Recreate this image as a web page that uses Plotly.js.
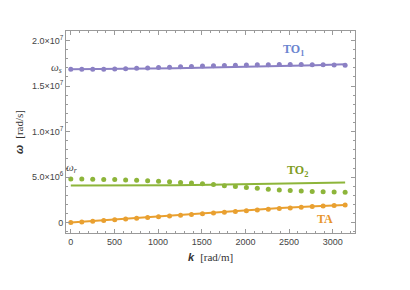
<!DOCTYPE html>
<html>
<head>
<meta charset="utf-8">
<script src="https://cdn.plot.ly/plotly-3.0.1.min.js"></script>
<style>html,body{margin:0;padding:0;background:#fff}#chart{width:410px;height:290px}</style>
</head>
<body>
<div id="chart"></div>
<script>
// wavenumber samples k [rad/m]
const kDots = [0,126,251,377,503,628,754,880,1005,1131,1257,1382,1508,1634,1759,1885,2011,2136,2262,2388,2513,2639,2765,2890,3016,3142];
// frequencies in units of 10^6 rad/s
const to1Dots = [16.85,16.85,16.85,16.85,16.88,16.91,16.95,16.98,17.04,17.08,17.12,17.16,17.20,17.24,17.27,17.29,17.31,17.33,17.35,17.36,17.36,17.36,17.35,17.33,17.31,17.29];
const to2Dots = [4.79,4.79,4.77,4.75,4.73,4.69,4.65,4.60,4.55,4.49,4.42,4.35,4.28,4.18,4.05,3.96,3.86,3.77,3.67,3.59,3.54,3.48,3.43,3.38,3.36,3.33];
const taDots  = [0,0.08,0.16,0.24,0.32,0.41,0.49,0.57,0.65,0.73,0.81,0.89,0.97,1.06,1.14,1.22,1.31,1.39,1.47,1.55,1.62,1.70,1.76,1.82,1.88,1.93];

const kLine   = [0,400,800,1200,1600,2000,2400,2800,3142];
const to1Line = [16.85,16.87,16.90,16.96,17.03,17.10,17.19,17.29,17.40];
const to2Line = [4.07,4.07,4.08,4.11,4.16,4.21,4.27,4.33,4.40];
const taLine  = [0,0.27,0.54,0.80,1.07,1.36,1.61,1.80,1.94];

const xTicks = [0,500,1000,1500,2000,2500,3000];
const yTicks = [0,5,10,15,20];
const yTickText = ['0','5.0×10<sup>6</sup>','1.0×10<sup>7</sup>','1.5×10<sup>7</sup>','2.0×10<sup>7</sup>'];

const cTO1 = '#8b80c4', cTO2 = '#8db53a', cTA = '#e9a030';

const traces = [
  {x:kLine, y:to1Line, mode:'lines', line:{color:cTO1, width:2}, hoverinfo:'skip'},
  {x:kLine, y:to2Line, mode:'lines', line:{color:cTO2, width:2}, hoverinfo:'skip'},
  {x:kLine, y:taLine,  mode:'lines', line:{color:cTA,  width:2}, hoverinfo:'skip'},
  {x:kDots, y:to1Dots, mode:'markers', marker:{color:cTO1, size:5}},
  {x:kDots, y:to2Dots, mode:'markers', marker:{color:cTO2, size:5}},
  {x:kDots, y:taDots,  mode:'markers', marker:{color:cTA,  size:5}}
];

const axCol = '#9a9a9a';
const tickFont = {family:'Liberation Sans, Arial, sans-serif', size:9, color:'#444'};
const layout = {
  width:410, height:290,
  margin:{l:66, r:55, t:31, b:57},
  paper_bgcolor:'#fff', plot_bgcolor:'#fff',
  showlegend:false,
  xaxis:{
    range:[-55,3255], tickmode:'array', tickvals:xTicks, ticktext:xTicks.map(String),
    ticks:'inside', ticklen:4, tickcolor:axCol, tickwidth:1,
    minor:{dtick:100, tick0:0, ticks:'inside', ticklen:2, tickcolor:axCol, showgrid:false},
    showline:true, linecolor:axCol, linewidth:1, mirror:'allticks',
    showgrid:false, zeroline:false, tickfont:tickFont,
    title:{text:'<b><i>k</i></b>  <span style="font-family:Liberation Serif, serif">[rad/m]</span>',
           font:{family:'Liberation Sans, Arial, sans-serif', size:11, color:'#333'}, standoff:7}
  },
  yaxis:{
    range:[-1.14,21.05], tickmode:'array', tickvals:yTicks, ticktext:yTickText,
    ticks:'inside', ticklen:4, tickcolor:axCol, tickwidth:1,
    minor:{dtick:1, tick0:0, ticks:'inside', ticklen:2, tickcolor:axCol, showgrid:false},
    showline:true, linecolor:axCol, linewidth:1, mirror:'allticks',
    showgrid:false, zeroline:false, tickfont:tickFont,
    title:{text:'<b><i>ω</i></b>  <span style="font-family:Liberation Serif, serif">[rad/s]</span>',
           font:{family:'Liberation Sans, Arial, sans-serif', size:11, color:'#333'}, standoff:6}
  },
  annotations:[
    {x:2545, y:19.0, text:'<b>TO<sub>1</sub></b>', showarrow:false, font:{family:'Liberation Serif, serif', size:12, color:'#6a84cf'}},
    {x:2591, y:5.64, text:'<b>TO<sub>2</sub></b>', showarrow:false, font:{family:'Liberation Serif, serif', size:12, color:'#7f9d22'}},
    {x:2912, y:0.44, text:'<b>TA</b>', showarrow:false, font:{family:'Liberation Serif, serif', size:12, color:'#e8952a'}},
    {xref:'paper', x:-0.058, y:17.0, text:'<i>ω<sub>s</sub></i>', showarrow:false, font:{family:'Liberation Serif, serif', size:11, color:'#444'}},
    {xref:'paper', x:-0.008, y:5.95, text:'<i>ω<sub>r</sub></i>', showarrow:false, font:{family:'Liberation Serif, serif', size:11, color:'#444'}}
  ]
};
Plotly.newPlot('chart', traces, layout, {displayModeBar:false, staticPlot:true});
</script>
</body>
</html>
